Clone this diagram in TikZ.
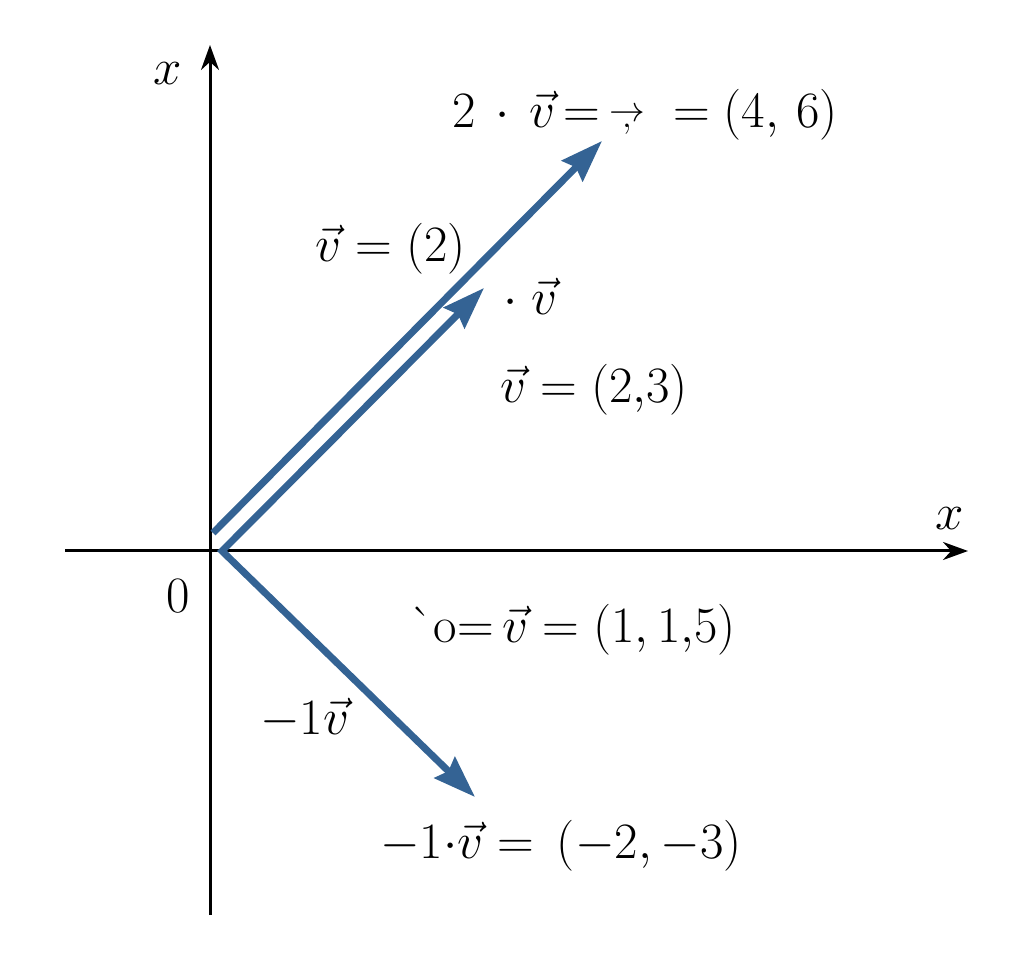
\RequirePackage{fix-cm}
\documentclass[tikz,border=0pt]{standalone}
\usetikzlibrary{arrows.meta}
\definecolor{vecblue}{RGB}{52,99,148}

\begin{document}
\begin{tikzpicture}[x=0.2mm, y=-0.2mm,
    axis/.style={line width=0.6mm, -{Stealth[length=5mm, width=3.6mm]}},
    vecline/.style={vecblue, line width=1.4mm, line join=miter},
    vtip/.tip={Stealth[length=8.4mm, width=5.8mm, inset=1mm]},
    lbl/.style={anchor=base west, inner sep=0pt, font=\fontsize{29}{34}\selectfont}]
  \useasboundingbox (0,0) rectangle (1024,960);

  % axes
  \coordinate (ybot) at (210,915);
  \coordinate (ytop) at (210,45);
  \coordinate (xleft) at (65,551);
  \coordinate (xright) at (968,551);
  \draw [axis] (ybot) -- (ytop);
  \draw [axis] (xleft) -- (xright);

  % vectors
  \coordinate (o1) at (213,533);
  \coordinate (t1) at (602,141);   % 2v
  \coordinate (o2) at (222,551);
  \coordinate (t2) at (484,288);   % v
  \coordinate (t3) at (475,797);   % -v
  \draw [vecline, -{vtip}] (o1) -- (t1);
  \draw [vecline, {vtip}-{vtip}] (t3) -- (o2) -- (t2);

  % labels
  \node [lbl] (xlab) at (153,85) {$x$};
  \node [lbl] (xlab2) at (935,530) {$x$};
  \node [lbl] (zero) at (166,613) {$0$};
  \node [lbl] (twov) at (452,128)
        {$2\,\cdot\,\vec{v}\,{=}\,{\stackrel{\rightarrow}{\scriptstyle ,}}\;=(4,\,6)$};
  \node [lbl] (vtwo) at (315,262) {$\vec{v}=(2)$};
  \node [lbl] (dotv) at (503,315) {$\cdot\;\vec{v}$};
  \node [lbl] (vtt) at (500,403) {$\vec{v}=(2{,}3)$};
  \node [lbl] (vhalf) at (410,643) {$\mbox{\`{}o}{=}\,\vec{v}=(1,1{,}5)$};
  \node [lbl] (minv) at (260,735) {$-1\vec{v}$};
  \node [lbl] (minvv) at (380,858) {$-1{\cdot}\vec{v}=\,(-2,{-}3)$};
\end{tikzpicture}
\end{document}
